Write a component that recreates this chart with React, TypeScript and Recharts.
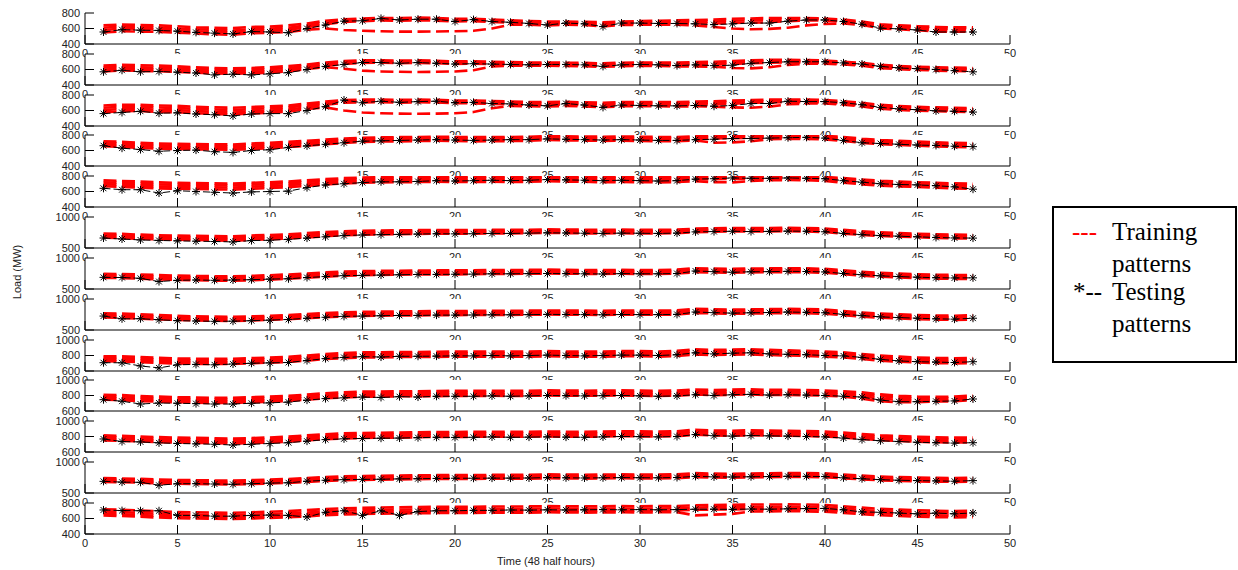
import React from "react";
import { LineChart, Line, XAxis, YAxis, CartesianGrid } from "recharts";

// half-hour index along the day
const HALF_HOURS = [
  1, 2, 3, 4, 5, 6, 7, 8, 9, 10, 11, 12, 13, 14, 15, 16, 17, 18, 19, 20, 21, 22, 23, 24,
  25, 26, 27, 28, 29, 30, 31, 32, 33, 34, 35, 36, 37, 38, 39, 40, 41, 42, 43, 44, 45, 46, 47, 48,
];
const X_TICKS = [0, 5, 10, 15, 20, 25, 30, 35, 40, 45, 50];

// y ranges / ticks of each of the 13 panels, top to bottom
const Y_RANGES: [number, number][] = [
  [400, 800], [400, 800], [400, 800], [400, 800], [400, 800],
  [500, 1000], [500, 1000], [500, 1000],
  [600, 1000], [600, 1000], [600, 1000],
  [500, 1000], [400, 800],
];
const Y_TICKS: number[][] = [
  [400, 600, 800], [400, 600, 800], [400, 600, 800], [400, 600, 800], [400, 600, 800],
  [500, 1000], [500, 1000], [500, 1000],
  [600, 800, 1000], [600, 800, 1000], [600, 800, 1000],
  [500, 1000], [400, 600, 800],
];

// panel 1
const test1 = [555,585,578,575,565,550,540,530,560,555,545,600,645,695,700,730,710,720,720,690,715,690,680,665,645,670,660,625,670,670,665,665,660,650,660,670,670,695,710,710,690,655,605,595,580,555,555,555];
const trainA1 = [640,650,645,640,630,615,610,605,620,625,640,665,700,720,730,735,735,740,735,725,725,715,705,695,690,690,685,680,690,695,700,705,710,715,725,730,735,735,735,730,715,690,655,640,630,620,615,615];
const trainB1 = [610,625,620,612,600,590,582,575,592,598,610,640,675,700,712,720,718,722,718,705,710,698,690,680,672,675,670,660,675,680,682,685,688,690,700,705,710,715,720,718,700,672,635,622,610,598,595,595];
const trainC1 = [580,600,595,588,575,565,555,548,568,572,585,615,655,685,695,705,700,705,702,690,695,685,675,665,655,660,655,640,660,665,665,668,668,665,670,675,680,695,705,705,690,660,618,605,592,578,575,575];
const trainD1 = [548,565,560,556,545,535,525,520,540,545,555,585,600,580,570,565,560,560,562,565,570,600,650,650,640,648,645,625,645,648,648,650,640,620,600,590,595,610,640,660,665,645,602,590,578,560,558,560];

// panel 2
const test2 = [570,590,570,575,565,555,530,540,530,545,560,600,640,665,690,690,680,690,680,670,675,670,665,660,665,665,660,640,660,665,660,650,660,650,655,680,690,700,700,700,685,670,640,620,610,600,585,570];
const trainA2 = [650,660,655,650,640,630,620,615,620,630,645,665,690,710,720,720,715,718,712,705,705,700,695,690,690,688,685,680,688,690,690,690,695,700,710,720,725,725,722,715,700,685,660,645,635,630,625,620];
const trainB2 = [625,635,630,625,615,605,595,590,595,605,620,645,670,690,700,702,698,700,695,688,690,685,680,675,675,674,670,665,672,675,675,672,676,680,690,700,705,708,705,700,688,672,645,632,622,615,610,605];
const trainC2 = [598,610,605,600,590,580,570,565,570,580,595,625,650,672,685,688,682,685,680,672,675,670,665,660,660,660,655,648,658,660,660,656,660,662,670,680,688,692,692,688,676,660,632,618,608,600,595,590];
const trainD2 = [575,588,582,578,568,558,548,545,550,560,575,608,630,610,585,575,570,568,570,575,590,640,650,648,648,646,642,635,644,646,645,640,640,635,620,615,630,660,675,675,665,648,618,605,595,586,580,578];

// panel 3
const test3 = [560,575,590,565,570,555,545,530,555,560,560,600,650,735,700,720,705,715,720,700,705,690,685,670,660,690,670,640,670,665,660,660,665,655,665,690,690,720,715,715,700,675,640,620,610,595,590,580];
const trainA3 = [665,675,675,665,660,648,640,635,645,655,665,690,715,735,740,740,738,740,738,730,728,722,715,710,710,712,705,700,708,710,710,710,715,720,728,735,740,742,740,735,720,700,672,658,648,640,635,630];
const trainB3 = [635,648,648,638,632,620,612,605,618,628,640,665,695,715,720,722,718,722,720,710,708,700,695,690,688,692,686,678,688,690,690,690,694,700,708,715,720,722,720,715,700,680,652,638,628,620,615,610];
const trainC3 = [605,620,622,610,605,592,582,575,590,600,612,640,675,700,705,708,702,706,705,695,692,684,678,672,670,678,670,660,672,672,672,672,676,680,688,698,705,710,708,702,688,665,636,622,612,604,600,595];
const trainD3 = [575,592,595,582,578,565,555,548,562,572,585,620,640,600,575,565,560,558,560,565,580,630,660,655,652,660,652,642,655,655,654,652,655,650,640,635,650,680,690,690,676,652,622,608,598,590,585,580];

// panel 4
const test4 = [662,630,612,590,600,605,585,575,600,610,640,660,680,700,720,725,730,735,740,735,730,735,740,740,750,745,740,735,740,735,730,730,740,745,755,755,760,765,770,760,730,700,690,680,670,665,655,650];
const trainA4 = [720,712,700,690,685,682,680,678,690,700,712,725,740,755,765,770,772,775,778,775,772,772,775,778,785,782,780,778,780,778,775,775,782,788,790,790,790,790,790,788,775,752,735,725,715,705,698,695];
const trainB4 = [700,690,678,668,662,660,656,654,666,676,690,705,720,735,748,752,755,758,760,758,755,755,758,760,768,765,762,760,762,760,758,758,765,772,778,780,782,785,785,778,758,735,718,708,698,688,680,678];
const trainC4 = [678,668,655,645,640,638,634,630,642,652,668,685,700,718,730,735,738,740,744,740,738,738,740,744,752,748,746,742,745,742,740,740,748,755,760,762,765,768,768,760,740,716,700,690,680,670,662,660];
const trainD4 = [655,645,632,622,618,615,612,608,620,630,645,662,680,698,710,716,718,722,725,722,718,720,722,726,735,730,728,724,726,724,720,720,728,700,705,720,745,750,750,742,722,698,682,672,662,652,645,642];

// panel 5
const test5 = [641,623,623,580,610,600,590,580,595,600,605,650,685,700,715,725,725,730,740,735,740,745,740,745,755,750,745,740,745,740,735,740,760,765,775,770,770,775,770,765,740,720,700,690,685,675,660,630];
const trainA5 = [745,735,728,718,712,708,705,702,712,720,730,745,760,772,780,785,786,788,790,788,788,790,788,790,790,790,788,786,788,786,784,786,790,790,790,790,790,790,790,788,772,755,738,728,720,712,705,700];
const trainB5 = [720,712,702,692,688,684,680,678,688,696,706,722,740,752,760,765,766,768,770,768,768,770,768,770,775,772,770,768,770,768,765,768,775,780,782,782,785,785,782,775,755,735,718,708,700,692,685,680];
const trainC5 = [695,686,676,666,662,658,654,650,662,670,682,698,716,730,738,742,744,746,748,746,746,748,746,748,755,752,748,745,748,745,742,746,755,760,765,762,765,768,765,755,735,712,696,686,678,668,662,658];
const trainD5 = [668,660,650,640,635,632,628,624,636,645,656,672,690,705,712,718,720,722,725,722,722,725,722,726,732,728,725,720,722,720,718,722,732,720,718,735,745,748,745,735,715,692,676,666,658,648,640,636];

// panel 6
const test6 = [661,645,630,622,615,610,605,598,620,625,640,660,680,700,710,715,720,725,730,728,730,735,735,740,745,742,738,735,740,738,735,740,760,765,770,765,768,772,770,762,735,715,700,690,680,670,662,660];
const trainA6 = [735,728,715,705,700,696,692,690,702,710,722,740,758,770,778,782,785,788,790,790,790,792,792,795,800,798,795,792,796,795,793,796,812,818,822,820,822,825,822,815,792,770,752,740,730,722,715,712];
const trainB6 = [712,705,692,682,676,672,668,665,678,686,698,716,735,748,756,760,764,768,770,770,772,774,774,778,784,780,776,774,778,776,774,778,795,800,805,802,805,808,805,796,772,750,732,720,710,700,694,690];
const trainC6 = [690,682,670,660,654,650,645,642,655,662,675,692,712,726,735,740,744,748,750,750,752,755,755,758,764,760,756,754,758,756,754,758,775,782,786,784,786,790,786,778,752,730,714,702,692,682,676,672];
const trainD6 = [668,660,648,638,632,628,622,618,632,640,652,670,690,705,714,718,722,726,730,730,732,735,735,738,744,740,736,734,738,736,734,738,755,762,768,765,768,770,766,758,732,710,694,684,674,664,656,652];

// panel 7
const test7 = [688,685,672,620,640,645,640,645,650,660,665,685,700,715,720,725,730,735,735,738,740,745,745,748,750,748,745,742,748,745,745,750,790,780,770,778,780,785,782,775,750,730,712,700,690,682,678,680];
const trainA7 = [745,742,735,725,715,710,706,705,712,722,735,750,768,780,788,792,795,798,800,800,802,805,806,808,812,810,806,804,808,806,806,812,835,830,825,830,832,835,832,825,800,778,760,748,738,730,726,725];
const trainB7 = [725,720,712,702,692,686,682,680,688,698,710,726,745,758,766,770,772,776,778,778,780,784,785,788,792,790,786,784,788,786,786,792,815,812,806,810,812,815,812,805,780,758,740,728,718,710,706,705];
const trainC7 = [702,698,690,678,668,662,658,655,665,675,688,705,722,736,745,748,752,755,758,758,760,764,765,768,772,770,766,764,768,766,766,772,795,790,785,790,792,795,792,785,760,738,720,708,698,690,686,685];
const trainD7 = [680,676,668,656,646,640,635,632,642,652,666,682,700,714,722,726,730,734,736,736,738,742,744,746,750,748,744,742,746,744,744,750,770,768,762,768,770,772,770,762,738,716,698,686,676,668,664,662];

// panel 8
const test8 = [725,680,682,665,650,645,640,642,650,660,670,690,705,720,725,730,735,735,740,740,742,745,745,748,752,750,748,745,750,748,748,752,790,780,772,778,782,790,785,778,752,732,712,700,690,680,675,690];
const trainA8 = [770,765,752,740,728,720,715,712,720,730,742,758,775,786,792,796,800,802,805,806,808,810,810,812,815,814,812,810,814,812,812,816,840,835,828,832,836,840,836,830,805,782,764,752,742,734,730,740];
const trainB8 = [748,742,730,718,706,698,693,690,698,708,720,736,752,764,770,774,778,780,782,784,786,788,788,790,794,792,790,788,792,790,790,794,818,812,806,810,814,818,814,808,782,760,742,730,720,712,708,716];
const trainC8 = [725,720,706,695,684,676,670,668,676,686,698,714,730,742,748,752,756,758,760,762,764,766,766,768,772,770,768,766,770,768,768,772,795,790,784,788,792,796,792,785,760,738,720,708,698,690,686,694];
const trainD8 = [702,696,684,672,662,654,648,645,654,664,676,692,708,720,726,730,734,736,738,740,742,744,744,746,750,748,746,744,748,746,746,750,772,768,762,766,770,774,770,762,738,716,698,686,676,668,664,670];

// panel 9
const test9 = [707,706,665,640,680,685,680,690,700,705,710,735,760,775,785,780,790,790,792,795,795,800,795,800,805,800,795,800,805,805,800,810,835,820,830,835,820,815,810,800,795,775,750,730,720,715,710,720];
const trainA9 = [790,790,780,770,762,758,756,758,766,774,784,800,820,832,840,842,845,846,848,850,850,852,850,852,856,852,850,852,856,856,852,860,880,872,876,880,872,866,860,850,840,820,800,785,775,768,765,768];
const trainB9 = [770,768,758,748,740,736,734,736,744,752,762,778,798,810,818,820,823,824,826,828,828,830,828,830,835,830,828,830,835,835,830,838,858,850,855,858,850,845,838,828,818,798,778,764,754,746,742,745];
const trainC9 = [748,746,736,726,718,714,712,714,722,730,740,756,776,788,796,798,802,802,804,806,806,808,806,808,812,808,806,808,812,812,808,816,835,828,832,836,828,822,816,806,796,776,756,742,732,724,720,724];
const trainD9 = [726,724,714,704,696,692,690,692,700,708,718,734,754,766,774,776,780,780,782,784,784,786,784,786,790,786,784,786,790,790,786,794,812,806,810,814,806,800,794,784,774,754,734,720,710,702,698,702];

// panel 10
const test10 = [746,726,690,703,700,695,690,690,700,705,715,740,760,770,780,775,785,780,790,790,790,795,790,795,800,798,795,798,800,795,790,795,810,800,810,815,805,810,805,800,790,780,740,720,720,725,730,755];
const trainA10 = [810,806,792,785,778,774,770,770,778,786,796,812,830,842,850,852,855,855,858,860,860,862,860,862,866,864,862,864,866,864,860,864,878,870,876,880,872,874,870,865,855,840,815,795,785,782,786,800];
const trainB10 = [790,784,770,764,756,752,748,748,756,764,774,790,808,820,828,830,834,834,836,838,838,840,838,840,844,842,840,842,844,842,838,842,856,848,854,858,850,852,848,842,832,815,790,772,762,760,764,778];
const trainC10 = [768,762,748,742,734,730,726,726,734,742,752,768,786,798,806,808,812,812,814,816,816,818,816,818,822,820,818,820,822,820,816,820,834,826,832,836,828,830,826,820,810,790,760,742,738,740,744,758];
const trainD10 = [746,740,726,720,712,708,704,704,712,720,730,746,764,776,784,786,790,790,792,794,794,796,794,796,800,798,796,798,800,798,794,798,812,804,810,814,806,808,804,798,786,760,725,712,715,722,726,740];

// panel 11
const test11 = [768,735,730,718,710,705,700,690,700,710,720,740,760,770,775,778,780,785,790,788,790,795,790,792,795,792,790,795,800,798,795,800,825,810,805,812,808,805,800,795,780,760,745,735,725,720,715,720];
const trainA11 = [815,808,800,792,786,782,778,772,780,788,798,814,830,840,845,848,850,854,858,858,860,862,860,862,864,862,860,864,868,866,864,868,888,878,875,880,876,874,870,865,850,832,816,806,796,790,786,788];
const trainB11 = [795,788,780,772,766,762,758,752,760,768,778,794,810,820,825,828,830,834,838,838,840,842,840,842,844,842,840,844,848,846,844,848,868,858,855,860,856,854,850,845,830,812,796,786,776,770,766,768];
const trainC11 = [772,766,758,750,744,740,736,730,738,746,756,772,788,798,803,806,808,812,816,816,818,820,818,820,822,820,818,822,826,824,822,826,846,836,832,838,834,832,828,822,808,790,774,764,754,748,744,746];
const trainD11 = [750,744,736,728,722,718,714,708,716,724,734,750,766,776,781,784,786,790,794,794,796,798,796,798,800,798,796,800,804,802,800,804,822,814,810,816,812,810,806,800,786,768,752,742,732,726,722,724];

// panel 12
const test12 = [688,675,672,625,650,650,645,640,650,660,665,690,705,715,720,722,728,730,735,738,738,740,740,742,748,745,742,745,748,746,745,750,768,760,758,762,765,770,768,765,745,730,715,705,700,695,690,700];
const trainA12 = [740,735,728,718,710,706,702,700,708,716,726,742,758,768,775,778,782,785,788,790,790,792,792,795,800,798,795,798,800,798,798,802,820,812,810,815,818,822,820,816,798,782,766,756,750,745,742,748];
const trainB12 = [720,714,706,696,688,684,680,678,686,694,704,720,736,746,752,755,760,762,766,768,768,770,770,772,778,775,772,775,778,776,776,780,798,790,788,792,796,800,798,794,776,760,744,734,728,722,720,726];
const trainC12 = [700,694,686,676,668,664,660,658,666,674,684,700,716,726,732,735,740,742,746,748,748,750,750,752,758,755,752,755,758,756,756,760,778,770,768,772,776,780,778,774,756,740,724,714,708,702,700,706];
const trainD12 = [680,674,666,656,648,644,640,638,646,654,664,680,696,706,712,715,720,722,726,728,728,730,730,732,738,735,732,735,738,736,736,740,756,750,748,752,756,760,758,754,736,720,704,694,688,682,680,686];

// panel 13
const test13 = [710,702,700,700,640,640,630,630,640,645,640,620,680,700,640,700,640,690,700,700,705,705,710,708,712,710,712,715,712,715,712,715,720,720,718,722,720,725,728,730,712,685,680,670,660,670,660,672];
const trainA13 = [720,712,702,692,684,680,676,674,680,688,696,708,722,732,738,742,745,748,750,752,752,754,755,756,760,758,756,758,760,758,760,762,770,775,778,780,780,782,780,775,758,740,725,715,706,700,696,700];
const trainB13 = [690,682,672,662,654,650,646,644,650,658,666,678,692,702,708,712,715,718,720,722,722,724,725,726,730,728,726,728,730,728,730,732,742,746,748,750,750,752,750,745,728,710,695,685,676,670,666,670];
const trainC13 = [662,654,644,634,626,622,618,616,622,630,638,650,664,674,680,684,687,690,692,694,694,696,697,698,702,700,698,700,702,700,702,704,712,716,718,720,720,722,720,715,700,682,668,658,648,642,638,642];
const trainD13 = [640,632,622,612,604,600,596,594,600,608,616,628,642,652,658,662,665,668,670,672,672,674,675,676,680,678,676,678,680,678,680,682,640,650,660,690,692,695,692,688,672,656,642,632,624,618,614,618];

const TESTS = [test1, test2, test3, test4, test5, test6, test7, test8, test9, test10, test11, test12, test13];
const TRAINS = [
  [trainA1, trainB1, trainC1, trainD1],
  [trainA2, trainB2, trainC2, trainD2],
  [trainA3, trainB3, trainC3, trainD3],
  [trainA4, trainB4, trainC4, trainD4],
  [trainA5, trainB5, trainC5, trainD5],
  [trainA6, trainB6, trainC6, trainD6],
  [trainA7, trainB7, trainC7, trainD7],
  [trainA8, trainB8, trainC8, trainD8],
  [trainA9, trainB9, trainC9, trainD9],
  [trainA10, trainB10, trainC10, trainD10],
  [trainA11, trainB11, trainC11, trainD11],
  [trainA12, trainB12, trainC12, trainD12],
  [trainA13, trainB13, trainC13, trainD13],
];
const TRAIN_KEYS = ["a", "b", "c", "d"];

// layout of the stacked axes (page pixels)
const FIRST_TOP = 13;
const PITCH = 40.83;
const BOX_H = 31;
const PLOT_LEFT = 85;
const PLOT_RIGHT = 1010;
const TOP_PAD = 8;
const AXIS_H = 20;
const W = 1238;

const tickFont = { fontSize: 11, fill: "#222", fontFamily: "'Liberation Sans', Arial, sans-serif" };

function Star(props: any) {
  const { cx, cy, index } = props;
  if (cx == null || cy == null) return <g key={`s${index}`} />;
  const r = 4;
  const d = 2.9;
  return (
    <path
      key={`s${index}`}
      d={`M${cx - r},${cy}H${cx + r}M${cx},${cy - r}V${cy + r}M${cx - d},${cy - d}L${cx + d},${cy + d}M${cx - d},${cy + d}L${cx + d},${cy - d}`}
      stroke="#000"
      strokeWidth={1}
      fill="none"
    />
  );
}

function Panel({ idx }: { idx: number }) {
  const test = TESTS[idx];
  const train = TRAINS[idx];
  const rows = HALF_HOURS.map((x, j) => {
    const row: Record<string, number> = { x, t: test[j] };
    train.forEach((arr, k) => (row[TRAIN_KEYS[k]] = arr[j]));
    return row;
  });
  const top = FIRST_TOP + idx * PITCH;
  const domain = Y_RANGES[idx];
  return (
    <div style={{ position: "absolute", left: 0, top: top - TOP_PAD }}>
      <LineChart
        width={W}
        height={TOP_PAD + BOX_H + AXIS_H}
        data={rows}
        margin={{ top: TOP_PAD, right: W - PLOT_RIGHT, bottom: 0, left: PLOT_LEFT - 40 }}
      >
        <CartesianGrid fill="#fff" horizontal={false} vertical={false} />
        <XAxis
          dataKey="x"
          type="number"
          domain={[0, 50]}
          ticks={X_TICKS}
          interval={0}
          allowDataOverflow
          height={AXIS_H}
          tickSize={-9}
          tickMargin={14}
          axisLine={{ stroke: "#000" }}
          tickLine={{ stroke: "#000" }}
          tick={tickFont}
        />
        <XAxis
          xAxisId="top"
          orientation="top"
          type="number"
          domain={[0, 50]}
          ticks={X_TICKS}
          interval={0}
          allowDataOverflow
          height={0}
          tickSize={-9}
          tick={false}
          axisLine={{ stroke: "#000" }}
          tickLine={{ stroke: "#000" }}
        />
        <YAxis
          type="number"
          domain={domain}
          ticks={Y_TICKS[idx]}
          interval={0}
          allowDataOverflow
          width={40}
          tickSize={-9}
          tickMargin={14}
          axisLine={{ stroke: "#000" }}
          tickLine={{ stroke: "#000" }}
          tick={tickFont}
        />
        <YAxis
          yAxisId="r"
          orientation="right"
          type="number"
          domain={domain}
          ticks={Y_TICKS[idx]}
          interval={0}
          allowDataOverflow
          width={0}
          tickSize={-9}
          tick={false}
          axisLine={{ stroke: "#000" }}
          tickLine={{ stroke: "#000" }}
        />
        {TRAIN_KEYS.map((k) => (
          <Line
            key={k}
            type="linear"
            dataKey={k}
            stroke="#ff0000"
            strokeWidth={2.6}
            strokeDasharray="13 5.5"
            dot={false}
            isAnimationActive={false}
          />
        ))}
        <Line
          type="linear"
          dataKey="t"
          stroke="#000"
          strokeWidth={1}
          strokeDasharray="7 3"
          dot={Star}
          isAnimationActive={false}
        />
      </LineChart>
    </div>
  );
}

const serif = "'Liberation Serif', 'Times New Roman', Times, 'DejaVu Serif', serif";
const legText: React.CSSProperties = {
  position: "absolute",
  fontFamily: serif,
  fontSize: 25,
  lineHeight: "25px",
  whiteSpace: "nowrap",
  color: "#000",
};

export default function App() {
  return (
    <div style={{ position: "absolute", left: 0, top: 0, width: W, height: 570, background: "#fff", overflow: "hidden" }}>
      {Y_RANGES.map((_, i) => (
        <Panel key={i} idx={i} />
      ))}
      <div
        style={{
          position: "absolute",
          left: 17,
          top: 272,
          transform: "translate(-50%, -50%) rotate(-90deg)",
          fontFamily: "'Liberation Sans', Arial, sans-serif",
          fontSize: 11,
          color: "#222",
          whiteSpace: "nowrap",
        }}
      >
        Load (MW)
      </div>
      <div
        style={{
          position: "absolute",
          left: 546,
          top: 561,
          transform: "translate(-50%, -50%)",
          fontFamily: "'Liberation Sans', Arial, sans-serif",
          fontSize: 11,
          color: "#222",
          whiteSpace: "nowrap",
        }}
      >
        Time (48 half hours)
      </div>
      <div
        style={{
          position: "absolute",
          left: 1052,
          top: 206,
          width: 185,
          height: 157,
          border: "2px solid #000",
          boxSizing: "border-box",
          background: "#fff",
        }}
      >
        <span style={{ ...legText, left: 18, top: 11, color: "#ff0000" }}>---</span>
        <span style={{ ...legText, left: 58, top: 11 }}>Training</span>
        <span style={{ ...legText, left: 58, top: 43 }}>patterns</span>
        <span style={{ ...legText, left: 19, top: 71 }}>*--</span>
        <span style={{ ...legText, left: 58, top: 71 }}>Testing</span>
        <span style={{ ...legText, left: 58, top: 103 }}>patterns</span>
      </div>
    </div>
  );
}
